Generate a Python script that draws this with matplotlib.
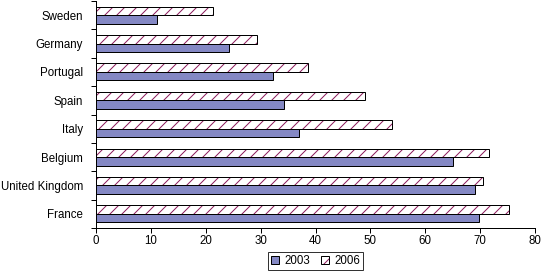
import matplotlib
matplotlib.use("Agg")
import matplotlib.pyplot as plt
import numpy as np
from matplotlib.patches import Patch
from matplotlib.legend_handler import HandlerTuple

countries = ["France", "United Kingdom", "Belgium", "Italy", "Spain", "Portugal", "Germany", "Sweden"]
v2003 = [69.8, 69.0, 65.1, 37.0, 34.2, 32.2, 24.2, 11.1]
v2006 = [75.3, 70.5, 71.6, 54.0, 49.1, 38.7, 29.3, 21.3]
series_names = ["2003", "2006"]
xticks = [0, 10, 20, 30, 40, 50, 60, 70, 80]

c2003 = "#8488c4"
hatch_col = "#8c1c5c"

plt.rcParams["font.family"] = ["Liberation Sans", "DejaVu Sans"]
plt.rcParams["hatch.linewidth"] = 1.0

dpi = 72
fs = 11.5
fig = plt.figure(figsize=(542 / dpi, 273 / dpi), dpi=dpi)
ax = fig.add_axes([96 / 542, 1 - 228 / 273, (535 - 96) / 542, (228 - 1) / 273])

y = np.arange(len(countries))
h = 0.3
ax.barh(y - h / 2, v2003, height=h, color=c2003, edgecolor="black", linewidth=1, zorder=2)
ax.barh(y + h / 2, v2006, height=h, color="white", edgecolor=hatch_col, hatch="//", linewidth=0, zorder=2)
ax.barh(y + h / 2, v2006, height=h, fill=False, edgecolor="black", linewidth=1, zorder=3)

ax.set_xlim(0, 80)
ax.set_ylim(-0.5, len(countries) - 0.5)
ax.set_xticks(xticks)
ax.set_xticklabels([str(t) for t in xticks])
ax.set_yticks(y)
ax.set_yticklabels(countries)
ax.set_yticks(np.arange(len(countries) + 1) - 0.5, minor=True)
ax.tick_params(axis="y", which="major", length=0, pad=13, labelsize=fs)
ax.tick_params(axis="y", which="minor", length=5, width=1)
ax.tick_params(axis="x", length=5, width=1, labelsize=fs, pad=2)
for s in ["top", "right"]:
    ax.spines[s].set_visible(False)
for s in ["left", "bottom"]:
    ax.spines[s].set_linewidth(1)

h1 = Patch(facecolor=c2003, edgecolor="black", linewidth=1)
h2a = Patch(facecolor="white", edgecolor=hatch_col, hatch="//", linewidth=0)
h2b = Patch(fill=False, edgecolor="black", linewidth=1)
leg = fig.legend([h1, (h2a, h2b)], series_names,
                 handler_map={tuple: HandlerTuple(ndivide=1)},
                 loc="upper center", bbox_to_anchor=(315.5 / 542, 1 - 252 / 273),
                 ncol=2, fontsize=fs, frameon=True, fancybox=False,
                 handlelength=0.7, handleheight=0.7, handletextpad=0.5,
                 columnspacing=0.9, borderpad=0.25, borderaxespad=0)
leg.get_frame().set_edgecolor("black")
leg.get_frame().set_linewidth(1)

fig.savefig("out.png", dpi=dpi, facecolor="white")
